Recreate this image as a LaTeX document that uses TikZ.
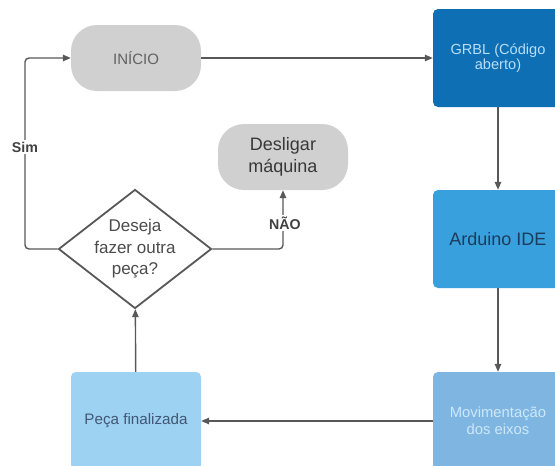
\documentclass[tikz,border=0pt]{standalone}
\usepackage{fontspec}
\setmainfont{Liberation Sans}
\usetikzlibrary{shapes.geometric,arrows.meta}
\definecolor{grblblue}{RGB}{14,111,181}
\definecolor{ardblue}{RGB}{56,161,221}
\definecolor{movblue}{RGB}{126,181,225}
\definecolor{pecblue}{RGB}{158,210,243}
\definecolor{pillgray}{RGB}{208,208,208}
\definecolor{linegray}{RGB}{88,88,88}
\definecolor{navytext}{RGB}{30,58,92}
\definecolor{palettext}{RGB}{185,222,246}
\tikzset{
  pill/.style={rectangle,rounded corners=26pt,fill=pillgray,minimum width=130pt,minimum height=66pt,align=center},
  bloco/.style={rectangle,rounded corners=5pt,minimum width=130pt,minimum height=98pt,align=center,font=\fontsize{14.8}{17}\selectfont},
  seta/.style={linegray,line width=1.4pt,-{Triangle[length=8pt,width=6.5pt]}},
  rotulo/.style={fill=white,inner sep=1.5pt,text=black!75,font=\bfseries\fontsize{14.2}{16}\selectfont}
}
\begin{document}
\begin{tikzpicture}[x=1pt,y=-1pt]
\clip (0,0) rectangle (555,466);
\fill[white] (0,0) rectangle (555,466);

\node (ini) at (136,58) [pill,text=black!62,font=\fontsize{15}{17}\selectfont]{INÍCIO};
\node (desl) at (283,157) [pill,text=black!78,font=\fontsize{18}{22}\selectfont]{Desligar\\máquina};

\node (grbl) at (498,58) [bloco,fill=grblblue,text=palettext,font=\fontsize{14.6}{15.5}\selectfont]{GRBL (Código\\aberto)};
\node (ard) at (498,239) [bloco,fill=ardblue,text=navytext,font=\fontsize{18}{21}\selectfont]{Arduino IDE};
\node (mov) at (498,421) [bloco,fill=movblue,text=palettext!70!white]{Movimentação\\dos eixos};
\node (peca) at (136,421) [bloco,fill=pecblue,text=navytext!85,font=\fontsize{15.2}{18}\selectfont]{Peça finalizada};

\node (q) at (135,249) [diamond,draw=linegray,line width=1.8pt,fill=white,minimum width=153pt,minimum height=119pt,inner sep=0pt]{};
\node (qt) at (q.center) [align=center,text=black!70,font=\fontsize{17}{21.5}\selectfont]{Deseja\\fazer outra\\peça?};

\coordinate (simc) at (25,58);

\draw[seta] (ini)--(grbl);
\draw[seta] (grbl)--(ard);
\draw[seta] (ard)--(mov);
\draw[seta] (mov)--(peca);
\draw[seta] (peca)--(q);
\draw[seta,rounded corners=4pt] (q.west)-|(simc)--(ini.west);
\draw[seta,rounded corners=4pt] (q.east)-|(desl.south);

\node (sim) at (25,147) [rotulo]{Sim};
\node (nao) at (285,223) [rotulo]{NÃO};

\end{tikzpicture}
\end{document}
